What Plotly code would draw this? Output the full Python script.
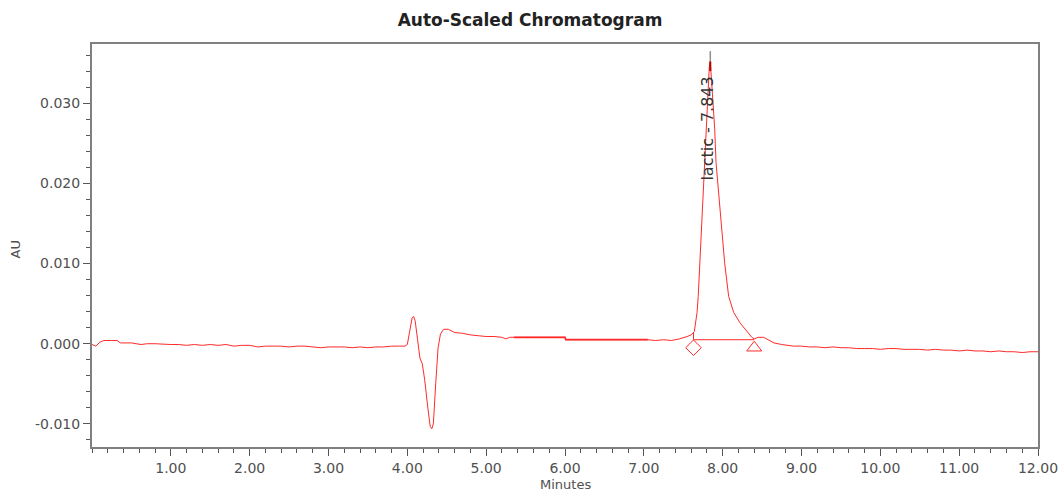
import plotly.graph_objects as go

# ---- data ----
time_min = [0.00, 0.05, 0.10, 0.15, 0.25, 0.32, 0.36, 0.50, 0.62, 0.70, 0.80, 0.92, 1.00, 1.10, 1.20,
            1.30, 1.40, 1.50, 1.60, 1.70, 1.80, 1.90, 2.00, 2.10, 2.20, 2.30, 2.40, 2.50, 2.60,
            2.70, 2.80, 2.90, 3.00, 3.10, 3.20, 3.30, 3.40, 3.50, 3.60, 3.70, 3.80, 3.90, 3.97,
            4.00, 4.03, 4.06, 4.08, 4.10, 4.13, 4.16, 4.19, 4.22, 4.26, 4.29, 4.31, 4.33, 4.36,
            4.39, 4.42, 4.46, 4.52, 4.60, 4.70, 4.80, 4.90, 5.00, 5.10, 5.20, 5.25, 5.30, 5.35,
            6.00, 6.01, 7.05, 7.15, 7.25, 7.35, 7.45, 7.55, 7.60, 7.64, 7.65, 7.675, 7.69, 7.71,
            7.726, 7.76, 7.794, 7.81, 7.83, 7.843, 7.874, 7.899, 7.916, 7.95, 7.99, 8.025, 8.076,
            8.14, 8.22, 8.31, 8.37, 8.40, 8.45, 8.52, 8.58, 8.65, 8.75, 8.90, 9.00, 9.10, 9.20,
            9.30, 9.40, 9.50, 9.60, 9.70, 9.80, 9.90, 10.00, 10.10, 10.20, 10.30, 10.40, 10.50,
            10.60, 10.70, 10.80, 10.90, 11.00, 11.10, 11.20, 11.30, 11.40, 11.50, 11.60, 11.70,
            11.80, 11.90, 12.00]
signal_au = [-0.0001, -0.0003, 0.0002, 0.0004, 0.0004, 0.0004, 0.0001, 0.0001, -0.0001, 0.0000, 0.0000, -0.0001, -0.0001, -0.0001, -0.0002,
             -0.0001, -0.0002, -0.0001, -0.0002, -0.0001, -0.0003, -0.0002, -0.0002, -0.0004, -0.0003, -0.0003, -0.0003, -0.0004, -0.0003,
             -0.0003, -0.0004, -0.0005, -0.0004, -0.0004, -0.0004, -0.0005, -0.0004, -0.0005, -0.0004, -0.0004, -0.0003, -0.0003, -0.0003,
             -0.0001, 0.0015, 0.0032, 0.0034, 0.0028, 0.0005, -0.0018, -0.0025, -0.0045, -0.0080, -0.0103, -0.0106, -0.0100, -0.0050,
             -0.0005, 0.0012, 0.0018, 0.0018, 0.0014, 0.0013, 0.0011, 0.0010, 0.0009, 0.0009, 0.0008, 0.0006, 0.0008, 0.0008,
             0.0008, 0.0005, 0.0005, 0.0004, 0.0005, 0.0004, 0.0006, 0.0009, 0.0011, 0.0015, 0.0022, 0.0039, 0.0059, 0.0101,
             0.0143, 0.0200, 0.0268, 0.0309, 0.0345, 0.0352, 0.0309, 0.0268, 0.0226, 0.0184, 0.0143, 0.0101, 0.0059,
             0.0039, 0.0026, 0.0015, 0.0008, 0.0006, 0.0008, 0.0008, 0.0005, 0.0001, -0.0001, -0.0003, -0.0003, -0.0004, -0.0004,
             -0.0005, -0.0004, -0.0005, -0.0005, -0.0006, -0.0006, -0.0006, -0.0007, -0.0006, -0.0006, -0.0007, -0.0007, -0.0007,
             -0.0008, -0.0007, -0.0008, -0.0008, -0.0009, -0.0008, -0.0009, -0.0009, -0.0010, -0.0009, -0.0010, -0.0010,
             -0.0011, -0.0010, -0.0010]

# flat stretch drawn heavier in the reference
flat_time = [5.35, 6.00, 6.01, 7.05]
flat_au = [0.0008, 0.0008, 0.0005, 0.0005]

peak_name = "lactic"
peak_time = 7.843
peak_height = 0.0352
int_start = 7.63
int_end = 8.40
int_start_signal = 0.0014
int_baseline = 0.0005
marker_level = -0.0005

x_ticks = [1, 2, 3, 4, 5, 6, 7, 8, 9, 10, 11, 12]
x_tick_text = ["1.00", "2.00", "3.00", "4.00", "5.00", "6.00", "7.00", "8.00", "9.00", "10.00", "11.00", "12.00"]
y_ticks = [-0.010, 0.000, 0.010, 0.020, 0.030]
y_tick_text = ["-0.010", "0.000", "0.010", "0.020", "0.030"]

RED = "#ff2a2a"
AXC = "#808080"
TXT = "#505050"
FONT = "DejaVu Sans"

fig = go.Figure()
fig.add_trace(go.Scatter(x=time_min, y=signal_au, mode="lines",
                         line=dict(color=RED, width=1), hoverinfo="x+y"))
fig.add_trace(go.Scatter(x=flat_time, y=flat_au, mode="lines",
                         line=dict(color=RED, width=1.8)))
# integration baseline with drop line
fig.add_trace(go.Scatter(x=[int_start, int_start, int_end], y=[int_start_signal, int_baseline, int_baseline],
                         mode="lines", line=dict(color=RED, width=1)))
# start / end markers
fig.add_trace(go.Scatter(x=[int_start], y=[marker_level], mode="markers",
                         marker=dict(symbol="diamond-open", size=12, color=RED, line=dict(width=1))))
fig.add_trace(go.Scatter(x=[int_end], y=[marker_level], mode="markers",
                         marker=dict(symbol="triangle-up-open", size=13, color=RED, line=dict(width=1))))
# apex marks
fig.add_shape(type="line", x0=peak_time, x1=peak_time, y0=peak_height, y1=peak_height + 0.0013,
              line=dict(color="#909090", width=1.5))
fig.add_shape(type="line", x0=peak_time, x1=peak_time, y0=peak_height - 0.0012, y1=peak_height,
              line=dict(color="#b00000", width=2))
fig.add_annotation(x=peak_time, y=0.0336, text=f"{peak_name} - {peak_time:.3f}",
                   textangle=-90, showarrow=False, xanchor="center", yanchor="top", xshift=-3,
                   font=dict(family=FONT, size=16, color="#333333"))

# axis titles
fig.add_annotation(x=0.5, y=0, xref="paper", yref="paper", text="Minutes", showarrow=False,
                   xanchor="center", yanchor="middle", yshift=-37,
                   font=dict(family=FONT, size=13, color=TXT))
fig.add_annotation(x=0, y=0.5, xref="paper", yref="paper", text="AU", showarrow=False, textangle=-90,
                   xanchor="center", yanchor="middle", xshift=-77, yshift=-4,
                   font=dict(family=FONT, size=13, color=TXT))

axis_common = dict(showline=True, linecolor=AXC, linewidth=2, mirror=True, ticks="outside",
                   ticklen=7, tickwidth=1, tickcolor="#555555", showgrid=False, zeroline=False,
                   automargin=False, tickfont=dict(family=FONT, size=14, color=TXT))
fig.update_xaxes(range=[0, 12], tickvals=x_ticks, ticktext=x_tick_text,
                 minor=dict(dtick=0.2, tick0=0, ticks="outside", ticklen=4, tickcolor="#555555"),
                 **axis_common)
fig.update_yaxes(range=[-0.01288, 0.03738], tickvals=y_ticks, ticktext=y_tick_text,
                 minor=dict(dtick=0.002, tick0=0, ticks="outside", ticklen=4, tickcolor="#555555"),
                 **axis_common)
fig.update_layout(
    width=1060, height=491,
    margin=dict(l=92, r=22, t=44, b=44),
    paper_bgcolor="white", plot_bgcolor="white",
    showlegend=False,
    title=dict(text="<b>Auto-Scaled Chromatogram</b>", x=0.5, xref="container", xanchor="center",
               y=1 - 20 / 491, yref="container", yanchor="middle",
               font=dict(family=FONT, size=17, color="#222222")),
)
fig.write_html("out.html", config={"displayModeBar": False},
               post_script="document.body.style.margin='0';document.body.style.overflow='hidden';")
